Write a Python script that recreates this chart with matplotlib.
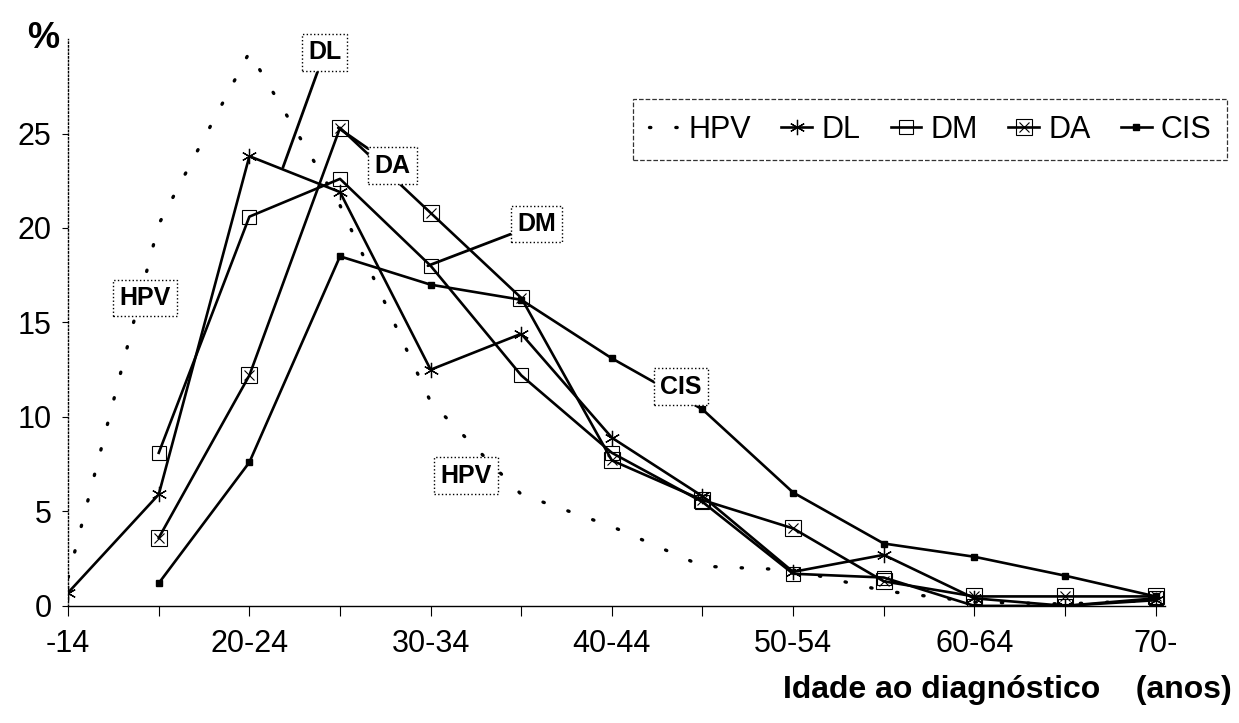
import matplotlib
matplotlib.use("Agg")
import matplotlib.pyplot as plt
from matplotlib.lines import Line2D
import numpy as np

plt.rcParams['font.family'] = ['Liberation Sans', 'DejaVu Sans']

# Faixas etárias
idades = ["-14", "15-19", "20-24", "25-29", "30-34", "35-39", "40-44",
          "45-49", "50-54", "55-59", "60-64", "65-69", "70-"]

# Percentuais
hpv = [1.5, 20.2, 29.3, 21.2, 10.8, 5.9, 4.2, 2.1, 1.9, 0.8, 0.2, 0.1, 0.3]
dl = [0.7, 5.9, 23.8, 21.9, 12.5, 14.4, 8.9, 5.8, 1.8, 2.7, 0.4, 0.0, 0.3]
dm = [np.nan, 8.1, 20.6, 22.6, 18.0, 12.2, 8.1, 5.5, 1.7, 1.5, 0.0, 0.0, 0.4]
da = [np.nan, 3.6, 12.2, 25.3, 20.8, 16.3, 7.7, 5.6, 4.1, 1.3, 0.5, 0.5, 0.5]
cis = [np.nan, 1.2, 7.6, 18.5, 17.0, 16.2, 13.1, 10.4, 6.0, 3.3, 2.6, 1.6, 0.5]

x = np.arange(len(idades))

fig = plt.figure(figsize=(12.39, 7.23), dpi=100)
ax = fig.add_axes([0.055, 0.162, 0.885, 0.784])

lw = 1.9
ax.plot(x, hpv, color="black", lw=2.4, linestyle=(0, (0.4, 7.5)),
        dash_capstyle="round", label="HPV")
ax.plot(x, dl, color="black", lw=lw, marker=(6, 2, 0), ms=11, mew=0.9, label="DL")
ax.plot(x, dm, color="black", lw=lw, marker="s", ms=10, mfc="none", mew=0.8, label="DM")
l_da, = ax.plot(x, da, color="black", lw=lw, marker="s", ms=11, mfc="none", mew=0.8)
ax.plot(x, da, color="black", lw=0, marker="x", ms=7, mew=0.8)
ax.plot(x, cis, color="black", lw=lw, marker="s", ms=5, label="CIS")

# legenda na ordem original
handles, labels = ax.get_legend_handles_labels()
h_da = (l_da, Line2D([], [], color="black", lw=0, marker="x", ms=7, mew=0.8))
handles = handles[:3] + [h_da] + handles[3:]
labels = labels[:3] + ["DA"] + labels[3:]
leg = fig.legend(handles, labels, loc="upper left", bbox_to_anchor=(618 / 1239, 1 - 84 / 723),
                 ncol=5, fontsize=22, handlelength=1.0, handletextpad=0.3,
                 columnspacing=1.0, frameon=True, fancybox=False,
                 borderpad=0.5)
leg.get_frame().set_edgecolor("black")
leg.get_frame().set_linewidth(0.9)
leg.get_frame().set_linestyle("--")

# rótulos com caixas
caixa = dict(boxstyle="square,pad=0.25", fc="white", ec="black", ls=":", lw=1.0)
linha = dict(arrowstyle="-", color="black", lw=2.0, shrinkA=0, shrinkB=0)
ax.annotate("DL", xy=(2.37, 23.2), xytext=(2.83, 29.3), fontsize=18, fontweight="bold",
            ha="center", va="center", bbox=caixa, arrowprops=linha, zorder=5)
ax.annotate("DA", xy=(2.98, 25.3), xytext=(3.58, 23.3), fontsize=18, fontweight="bold",
            ha="center", va="center", bbox=caixa, arrowprops=linha, zorder=5)
ax.annotate("DM", xy=(3.97, 18.0), xytext=(5.17, 20.2), fontsize=18, fontweight="bold",
            ha="center", va="center", bbox=caixa, arrowprops=linha, zorder=5)
ax.text(0.85, 16.3, "HPV", fontsize=18, fontweight="bold", ha="center", va="center",
        bbox=caixa, zorder=5)
ax.text(6.76, 11.6, "CIS", fontsize=18, fontweight="bold", ha="center", va="center",
        bbox=caixa, zorder=5)
ax.text(4.39, 6.9, "HPV", fontsize=18, fontweight="bold", ha="center", va="center",
        bbox=caixa, zorder=5)

# eixos
ax.set_xlim(0, 12.1)
ax.set_ylim(0, 30)
ax.set_xticks(x)
ax.set_xticklabels([t if i % 2 == 0 else "" for i, t in enumerate(idades)], fontsize=22)
ax.set_yticks([0, 5, 10, 15, 20, 25])
ax.set_yticklabels(["0", "5", "10", "15", "20", "25"], fontsize=22)
ax.tick_params(axis="x", direction="out", length=7, width=0.8, pad=10)
ax.tick_params(axis="y", direction="out", length=4, width=0.8, pad=8)
ax.spines["top"].set_visible(False)
ax.spines["right"].set_visible(False)
ax.spines["left"].set_linestyle(":")
ax.spines["left"].set_linewidth(1.0)
ax.spines["bottom"].set_linewidth(1.0)

fig.text(43 / 1239, 1 - 38 / 723, "%", fontsize=26, fontweight="bold", ha="center", va="center")
fig.text(1232 / 1239, 1 - 690 / 723, "Idade ao diagnóstico    (anos)", fontsize=23,
         fontweight="bold", ha="right", va="center")

fig.savefig("out.png", dpi=100)
